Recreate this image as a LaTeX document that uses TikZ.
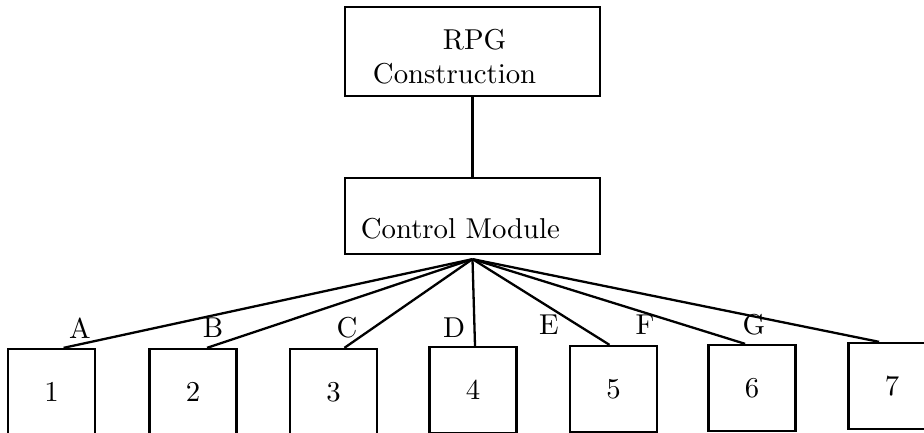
\documentclass[tikz,border=0pt]{standalone}
\usepackage{tikz}
\usetikzlibrary{positioning}
\begin{document}
\begin{tikzpicture}[x=0.3477pt, y=-0.3477pt]
    \tikzstyle{box} = [rectangle, draw=black, thick, inner sep=0pt]
    \tikzstyle{unit} = [box, minimum width=30.2pt, minimum height=29.9pt]
    \tikzstyle{link} = [draw=black, thick]
    \useasboundingbox (0,0) rectangle (924,433);
    % top of the tree
    \node (rpg) [box, minimum width=88.7pt, minimum height=30.9pt, text width=69.2pt, text height=10.8pt, align=left] at (472.5,51.5) {\hspace*{24.3pt}RPG\\Construction};
    \node (ctl) [box, minimum width=88.7pt, minimum height=26.4pt, text width=77.6pt, text height=16pt, text depth=0pt, align=left] at (472.5,216) {Control Module};
    \coordinate (hub) at ([yshift=-1.4pt]ctl.south);
    % the seven units
    \node (b1) [unit] at (51.5,392) {1};
    \node (b2) [unit] at (193,392) {2};
    \node (b3) [unit] at (333.5,392) {3};
    \node (b4) [unit] at (473,390) {4};
    \node (b5) [unit] at (613.5,389) {5};
    \node (b6) [unit] at (752,388) {6};
    \node (b7) [unit] at (892,386) {7};
    % branch labels
    \node (la) at (80,328) {A};
    \node (lb) at (213,328) {B};
    \node (lc) at (347,328) {C};
    \node (ld) at (454,328) {D};
    \node (le) at (549,325) {E};
    \node (lf) at (645,325) {F};
    \node (lg) at (754,325) {G};
    \draw[link] (rpg) -- (ctl);
    \draw[link] (hub) -- ([xshift=4.2pt]b1.north);
    \draw[link] (hub) -- ([xshift=4.9pt]b2.north);
    \draw[link] (hub) -- ([xshift=3.8pt]b3.north);
    \draw[link] (hub) -- ([xshift=0.7pt]b4.north);
    \draw[link] (hub) -- ([xshift=-1.4pt]b5.north);
    \draw[link] (hub) -- ([xshift=-2.4pt]b6.north);
    \draw[link] (hub) -- ([xshift=-4.5pt]b7.north);
\end{tikzpicture}
\end{document}
